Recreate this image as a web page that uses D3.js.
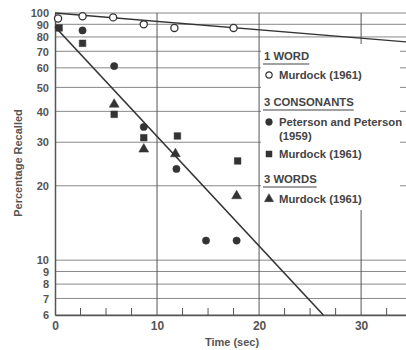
<!DOCTYPE html>
<html><head><meta charset="utf-8">
<script src="https://cdn.jsdelivr.net/npm/d3@7"></script>
<style>body{margin:0;background:#fff}svg{display:block}text{font-family:"Liberation Sans",Arial,sans-serif}</style>
</head><body><svg id="c" width="406" height="350"></svg>
<script>
const yTicks = [6,7,8,9,10,20,30,40,50,60,70,80,90,100];
const xTicks = [0,10,20,30];
const xMinor = [2.5,5,7.5,12.5,15,17.5,22.5,25,27.5,32.5];
// 1 WORD, Murdock (1961)
const wordT = [0.3,2.7,5.7,8.7,11.7,17.5];
const wordP = [95,97,96,90,87,87];
// 3 CONSONANTS, Peterson and Peterson (1959)
const petT = [2.7,5.8,8.7,11.9,14.8,17.8];
const petP = [85,61,34.6,23.4,12,12];
// 3 CONSONANTS, Murdock (1961)
const conT = [0.4,2.7,5.8,8.7,12.0,17.9];
const conP = [87,75.4,38.9,31.3,31.8,25.2];
// 3 WORDS, Murdock (1961)
const w3T = [5.8,8.7,11.8,17.8];
const w3P = [42.7,28.1,26.9,18.2];
// fitted lines
const wordFitT = [0,35], wordFitP = [100,76];
const consFitT = [0,26.3], consFitP = [88,6];

const svg = d3.select("#c");
const x = d3.scaleLinear().domain([0,34.4]).range([55,406]);
const y = d3.scaleLog().domain([6,100]).range([315,13]);
const ink = "#333", grid = "#888";

// horizontal grid
svg.append("g").selectAll("line").data(yTicks).join("line")
  .attr("x1",x(0)).attr("x2",406).attr("y1",d=>y(d)).attr("y2",d=>y(d))
  .attr("stroke",grid).attr("stroke-width",1);
// vertical grid
svg.append("g").selectAll("line").data(xTicks.slice(1)).join("line")
  .attr("x1",d=>x(d)).attr("x2",d=>x(d)).attr("y1",y(100)).attr("y2",y(6))
  .attr("stroke","#555").attr("stroke-width",1);

// legend box background (covers grid)
const lg = {x0:261, x1:400, y0:44, y1:210};
svg.append("rect").attr("x",lg.x0).attr("y",lg.y0).attr("width",lg.x1-lg.x0).attr("height",lg.y1-lg.y0).attr("fill","#fff");

// axes
const xAxis = d3.axisBottom(x).tickValues(xTicks).tickSize(0).tickPadding(6).tickFormat(d3.format("d"));
const gx = svg.append("g").attr("transform",`translate(0,${y(6)})`).call(xAxis);
gx.select(".domain").attr("stroke","#555").attr("stroke-width",1.5);
gx.selectAll("text").attr("font-size",12).attr("font-weight","bold").attr("fill","#555");
const yAxis = d3.axisLeft(y).tickValues(yTicks).tickSize(0).tickPadding(6).tickFormat(d3.format("d"));
const gy = svg.append("g").attr("transform",`translate(${x(0)},0)`).call(yAxis);
gy.select(".domain").attr("stroke","#555").attr("stroke-width",1.5);
gy.selectAll("text").attr("font-size",11).attr("font-weight","bold").attr("fill","#555").attr("dy","0.34em");
// minor ticks
svg.append("g").selectAll("line").data(xMinor).join("line")
  .attr("x1",d=>x(d)).attr("x2",d=>x(d)).attr("y1",y(6)).attr("y2",y(6)-7)
  .attr("stroke","#555").attr("stroke-width",1);

// axis titles
svg.append("text").attr("x",232).attr("y",346).attr("text-anchor","middle")
  .attr("font-size",11).attr("font-weight","bold").attr("fill","#555").text("Time (sec)");
svg.append("text").attr("transform","translate(22,163) rotate(-90)").attr("text-anchor","middle")
  .attr("font-size",11).attr("font-weight","bold").attr("fill","#555").text("Percentage Recalled");

// fit lines
const line = d3.line().x(d=>x(d[0])).y(d=>y(d[1]));
svg.append("path").datum(d3.zip(wordFitT,wordFitP)).attr("d",line).attr("fill","none").attr("stroke",ink).attr("stroke-width",1.3);
svg.append("path").datum(d3.zip(consFitT,consFitP)).attr("d",line).attr("fill","none").attr("stroke",ink).attr("stroke-width",1.6);

// markers
const sym = (type,size)=>d3.symbol().type(type).size(size)();
function pts(T,P,type,size,filled){
  svg.append("g").selectAll("path").data(d3.zip(T,P)).join("path")
    .attr("transform",d=>`translate(${x(d[0])},${y(d[1])})`)
    .attr("d",sym(type,size))
    .attr("fill",filled?ink:"#fff").attr("stroke",ink).attr("stroke-width",filled?0.5:1.3);
}
pts(wordT,wordP,d3.symbolCircle,40,false);
pts(petT,petP,d3.symbolCircle,42,true);
pts(conT,conP,d3.symbolSquare,44,true);
pts(w3T,w3P,d3.symbolTriangle,42,true);

// legend
const L = svg.append("g").attr("fill","#444").attr("font-size",11.3).attr("font-weight","bold");
function head(t,yy){
  const tx = L.append("text").attr("x",264).attr("y",yy).text(t);
  const w = tx.node().getComputedTextLength();
  L.append("line").attr("x1",263).attr("x2",264+w).attr("y1",yy+4).attr("y2",yy+4).attr("stroke","#444").attr("stroke-width",1.2);
}
function item(t,yy,type,size,filled){
  L.append("path").attr("transform",`translate(269,${yy-4})`).attr("d",sym(type,size))
    .attr("fill",filled?ink:"#fff").attr("stroke",ink).attr("stroke-width",filled?0.5:1.2);
  L.append("text").attr("x",279).attr("y",yy).text(t);
}
head("1 WORD",60);
item("Murdock (1961)",79,d3.symbolCircle,32,false);
head("3 CONSONANTS",106);
item("Peterson and Peterson",126,d3.symbolCircle,36,true);
L.append("text").attr("x",279).attr("y",140).text("(1959)");
item("Murdock (1961)",158,d3.symbolSquare,36,true);
head("3 WORDS",183);
item("Murdock (1961)",203,d3.symbolTriangle,36,true);
</script></body></html>
